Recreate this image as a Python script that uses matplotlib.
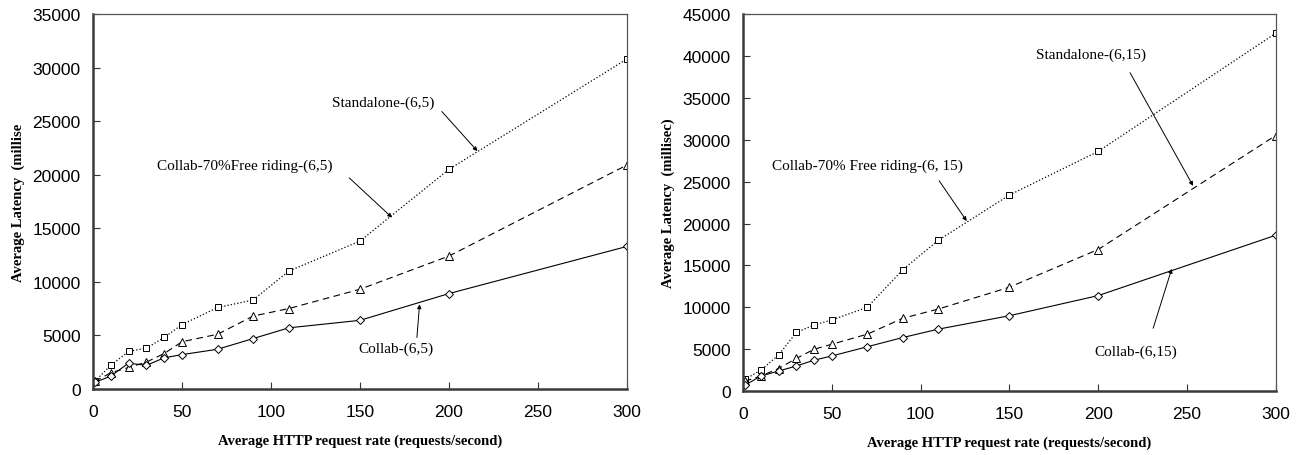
import numpy as np
import matplotlib
matplotlib.use('Agg')
import matplotlib.pyplot as plt

# request rates (requests/second)
rate = [1, 10, 20, 30, 40, 50, 70, 90, 110, 150, 200, 300]

# left panel, (6,5)
standalone_65 = [700, 2200, 3500, 3800, 4800, 6000, 7600, 8300, 11000, 13800, 20500, 30800]
freeride_65 = [700, 1500, 2000, 2500, 3300, 4400, 5100, 6800, 7500, 9300, 12400, 20900]
collab_65 = [600, 1200, 2400, 2200, 2900, 3200, 3700, 4700, 5700, 6400, 8900, 13300]

# right panel, (6,15)
standalone_615 = [1400, 2500, 4300, 7000, 7900, 8500, 10000, 14500, 18000, 23400, 28600, 42700]
freeride_615 = [1200, 1800, 2700, 3900, 5000, 5600, 6800, 8700, 9800, 12400, 16900, 30500]
collab_615 = [700, 1800, 2400, 3000, 3700, 4200, 5300, 6400, 7400, 9000, 11400, 18600]

xticks = [0, 50, 100, 150, 200, 250, 300]

serif = 'Liberation Serif'
sans = 'Liberation Sans'


def style_axes(ax, ymax, ystep, ylabel):
    ax.set_xlim(0, 300)
    ax.set_ylim(0, ymax)
    ax.set_xticks(xticks)
    ax.set_yticks(np.arange(0, ymax + 1, ystep))
    ax.tick_params(direction='in', length=5, width=0.8, color='#333333', labelsize=12.5)
    ax.tick_params(axis='x', pad=11)
    ax.tick_params(axis='y', pad=9)
    for lab in ax.get_xticklabels() + ax.get_yticklabels():
        lab.set_family(sans)
    for side in ['left', 'bottom']:
        ax.spines[side].set_linewidth(1.8)
        ax.spines[side].set_color('#3a3a3a')
    for side in ['top', 'right']:
        ax.spines[side].set_linewidth(0.9)
        ax.spines[side].set_color('#555555')
    ax.set_xlabel('Average HTTP request rate (requests/second)', family=serif,
                  fontweight='bold', fontsize=10.5, labelpad=10)
    ax.set_ylabel(ylabel, family=serif, fontweight='bold', fontsize=10.5, labelpad=5)


def draw(ax, s, f, c):
    mk = dict(markerfacecolor='white', markeredgecolor='black', markeredgewidth=0.7, color='black')
    ax.plot(rate, s, linestyle=':', linewidth=0.9, marker='s', markersize=5, **mk)
    ax.plot(rate, f, linestyle=(0, (6, 4)), linewidth=0.8, marker='^', markersize=5.5, **mk)
    ax.plot(rate, c, linestyle='-', linewidth=0.8, marker='D', markersize=4, **mk)


def note(ax, text, tx, ty, start, end):
    ax.text(tx, ty, text, family=serif, fontsize=11, ha='center', va='center')
    ax.annotate('', xy=end, xytext=start,
                arrowprops=dict(arrowstyle='-|>', color='black', lw=0.7,
                                mutation_scale=6, shrinkA=0, shrinkB=0))


fig = plt.figure(figsize=(12.99, 4.56), dpi=100)
ax1 = fig.add_axes([0.0716, 0.145, 0.411, 0.822])
ax2 = fig.add_axes([0.572, 0.140, 0.410, 0.827])

draw(ax1, standalone_65, freeride_65, collab_65)
style_axes(ax1, 35000, 5000, 'Average Latency  (millise')
note(ax1, 'Standalone-(6,5)', 163, 26800, (196, 25900), (216, 22200))
note(ax1, 'Collab-70%Free riding-(6,5)', 85, 20900, (144, 19700), (168, 16000))
note(ax1, 'Collab-(6,5)', 170, 3800, (182, 4800), (183.5, 7900))

draw(ax2, standalone_615, freeride_615, collab_615)
style_axes(ax2, 45000, 5000, 'Average Latency  (millisec)')
note(ax2, 'Standalone-(6,15)', 196, 40200, (218, 38000), (253.5, 24500))
note(ax2, 'Collab-70% Free riding-(6, 15)', 70, 26900, (110.5, 25100), (126, 20300))
note(ax2, 'Collab-(6,15)', 221, 4800, (231, 7500), (241.5, 14600))

fig.savefig('out.png', dpi=100)
